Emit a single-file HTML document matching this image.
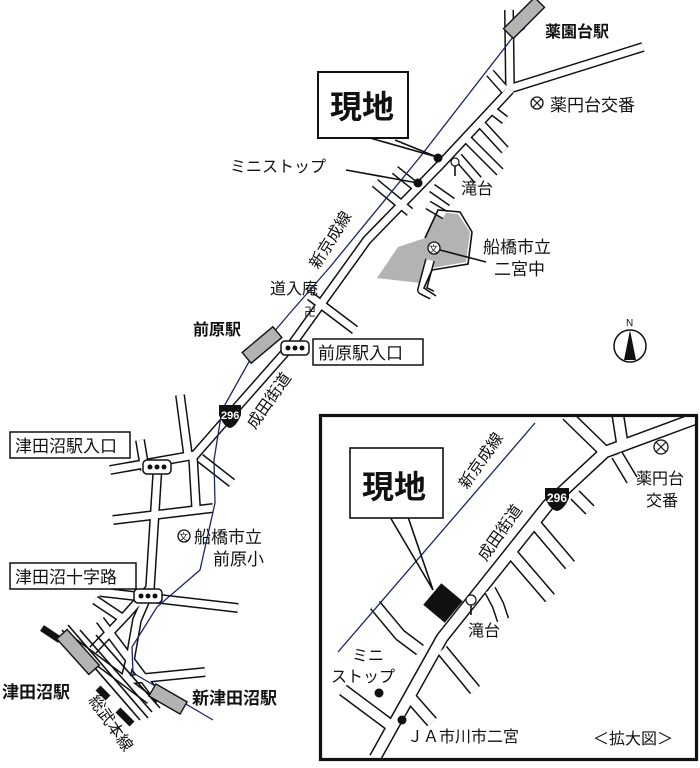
<!DOCTYPE html>
<html><head><meta charset="utf-8">
<style>
html,body{margin:0;padding:0;background:#fff;}
svg{display:block;}
text{font-family:"Liberation Sans","Noto Sans CJK JP",sans-serif;fill:#111;}
.b{font-weight:bold;}
.rd{fill:none;stroke:#111;stroke-width:10;stroke-linejoin:round;}
.rw{fill:none;stroke:#fff;stroke-width:7;stroke-linejoin:round;}
.rd2{fill:none;stroke:#111;stroke-width:13;stroke-linejoin:round;}
.rw2{fill:none;stroke:#fff;stroke-width:10;stroke-linejoin:round;}
.ln{fill:none;stroke:#111;stroke-width:1.6;}
.rail{fill:none;stroke:#1a2566;stroke-width:1.3;}
</style></head>
<body>
<svg width="700" height="768" viewBox="0 0 700 768" xmlns="http://www.w3.org/2000/svg">
<defs><clipPath id="ic"><rect x="321" y="416" width="375" height="343"/></clipPath></defs>
<polygon points="377,278 398,247 425,238 438,212 458,214 470,232 466,262 432,268 420,283" fill="#b3b3b3"/>
<g class="rd">
  <polyline points="509,10 510,88"/>
  <polyline points="512,88 643,47"/>
  <polyline points="510,90 440,165 367,240 290,347 230,415 195,455 110,470"/>
  <polyline points="158,462 150,588 128,613 93,650"/>
  <polyline points="193,457 196,508"/>
  <polyline points="113,520 213,508"/>
  <polyline points="100,592 238,608"/>
  <polyline points="150,590 137,620 130,660 125,680"/>
  <polyline points="125,680 205,672"/>
  <polyline points="200,458 232,483"/>
  <polyline points="180,395 188,455"/>
  <polyline points="140,440 145,470"/>
  <polyline points="430,260 422,290 432,295"/>
  <polyline points="375,183 410,212"/>
  <polyline points="395,170 420,190"/>
  <polyline points="458,157 478,180"/>
  <polyline points="468,140 500,172"/>
  <polyline points="482,125 505,150"/>
  <polyline points="492,110 505,120"/>
  <polyline points="490,73 505,90"/>
  <polyline points="432,188 452,202"/>
  <polyline points="428,205 445,215"/>
  <polyline points="310,296 355,330"/>
  <polyline points="70,640 150,700"/>
  <polyline points="100,620 160,700"/>
  <polyline points="95,600 125,620"/>
</g>
<g class="rw">
  <polyline points="509,10 510,88"/>
  <polyline points="512,88 643,47"/>
  <polyline points="510,90 440,165 367,240 290,347 230,415 195,455 110,470"/>
  <polyline points="158,462 150,588 128,613 93,650"/>
  <polyline points="193,457 196,508"/>
  <polyline points="113,520 213,508"/>
  <polyline points="100,592 238,608"/>
  <polyline points="150,590 137,620 130,660 125,680"/>
  <polyline points="125,680 205,672"/>
  <polyline points="200,458 232,483"/>
  <polyline points="180,395 188,455"/>
  <polyline points="140,440 145,470"/>
  <polyline points="430,260 422,290 432,295"/>
  <polyline points="375,183 410,212"/>
  <polyline points="395,170 420,190"/>
  <polyline points="458,157 478,180"/>
  <polyline points="468,140 500,172"/>
  <polyline points="482,125 505,150"/>
  <polyline points="492,110 505,120"/>
  <polyline points="490,73 505,90"/>
  <polyline points="432,188 452,202"/>
  <polyline points="428,205 445,215"/>
  <polyline points="310,296 355,330"/>
  <polyline points="70,640 150,700"/>
  <polyline points="100,620 160,700"/>
  <polyline points="95,600 125,620"/>
</g>
<polyline class="ln" points="425,238 438,210 460,212 472,232 468,264 432,270" />
<polyline class="ln" points="432,270 424,288 436,296"/>
<g stroke="#111" stroke-width="1.6">
  <line x1="62" y1="630" x2="140" y2="720"/>
  <line x1="68" y1="625" x2="148" y2="718"/>
  <line x1="80" y1="630" x2="152" y2="712"/>
  <line x1="96" y1="635" x2="160" y2="708"/>
</g>
<line x1="42" y1="628" x2="60" y2="640" stroke="#111" stroke-width="7"/>
<line x1="98" y1="688" x2="108" y2="698" stroke="#111" stroke-width="7"/>
<line x1="118" y1="710" x2="132" y2="724" stroke="#111" stroke-width="7"/>
<polyline class="rail" points="525,28 513,37 420,157 330,267 290,313 250,360 222,410 214,460 215,503 200,570 157,607 132,647 133,673 157,687 213,720"/>
<rect x="-22" y="-7" width="44" height="14" fill="#b3b3b3" stroke="#111" stroke-width="1.4" transform="translate(524,18) rotate(-45)"/>
<rect x="-20" y="-7" width="40" height="14" fill="#b3b3b3" stroke="#111" stroke-width="1.4" transform="translate(262,345) rotate(-40)"/>
<rect x="-24" y="-7" width="48" height="14" fill="#b3b3b3" stroke="#111" stroke-width="1.4" transform="translate(78,652) rotate(48)"/>
<rect x="-18" y="-7" width="36" height="14" fill="#b3b3b3" stroke="#111" stroke-width="1.4" transform="translate(168,699) rotate(30)"/>
<rect x="318" y="72" width="90" height="66" fill="#fff" stroke="#111" stroke-width="2"/>
<text x="330" y="118" font-size="32" class="b">現地</text>
<line class="ln" x1="370" y1="138" x2="437" y2="157"/>
<line class="ln" x1="395" y1="140" x2="437" y2="157"/>
<circle cx="438" cy="158" r="4.5" fill="#111"/>
<circle cx="418" cy="183" r="4.5" fill="#111"/>
<line class="ln" x1="346" y1="170" x2="418" y2="183"/>
<text x="230" y="172" font-size="16">ミニストップ</text>
<circle cx="455" cy="162" r="4" fill="#fff" stroke="#111" stroke-width="1.2"/>
<line class="ln" x1="455" y1="166" x2="455" y2="176"/>
<text x="461" y="194" font-size="16">滝台</text>
<circle cx="537" cy="103" r="6" fill="#fff" stroke="#111" stroke-width="1.3"/>
<path d="M533,99 L541,107 M541,99 L533,107" stroke="#111" stroke-width="1.2"/>
<text x="550" y="111" font-size="17">薬円台交番</text>
<text x="545" y="37" font-size="16" class="b">薬園台駅</text>
<circle cx="434" cy="248" r="6" fill="#fff" stroke="#111" stroke-width="1.3"/>
<text x="429" y="252" font-size="9">文</text>
<line class="ln" x1="440" y1="250" x2="486" y2="262"/>
<text x="483" y="253" font-size="17">船橋市立</text>
<text x="494" y="275" font-size="17">二宮中</text>
<text x="270" y="294" font-size="16">道入庵</text>
<text x="304" y="316" font-size="12">卍</text>
<text x="0" y="0" font-size="16" transform="translate(318,270) rotate(-58)">新京成線</text>
<text x="193" y="335" font-size="16" class="b">前原駅</text>
<rect x="281" y="341" width="28" height="14" rx="4" fill="#fff" stroke="#111" stroke-width="1.5"/>
<circle cx="288" cy="348" r="2.5" fill="#111"/><circle cx="295" cy="348" r="2.5" fill="#111"/><circle cx="302" cy="348" r="2.5" fill="#111"/>
<rect x="313" y="339" width="110" height="26" fill="#fff" stroke="#111" stroke-width="1.5"/>
<text x="318" y="359" font-size="17">前原駅入口</text>
<text x="0" y="0" font-size="16" transform="translate(255,430) rotate(-55)">成田街道</text>
<path d="M219,405 h22 v10 q-5,12 -11,13 q-6,-1 -11,-13z" fill="#111"/>
<text x="221" y="419" font-size="11" style="fill:#fff" class="b">296</text>
<rect x="10" y="432" width="120" height="26" fill="#fff" stroke="#111" stroke-width="1.5"/>
<text x="15" y="452" font-size="17">津田沼駅入口</text>
<rect x="143" y="460" width="28" height="14" rx="4" fill="#fff" stroke="#111" stroke-width="1.5"/>
<circle cx="150" cy="467" r="2.5" fill="#111"/><circle cx="157" cy="467" r="2.5" fill="#111"/><circle cx="164" cy="467" r="2.5" fill="#111"/>
<circle cx="184" cy="536" r="6" fill="#fff" stroke="#111" stroke-width="1.3"/>
<text x="179" y="540" font-size="9">文</text>
<text x="194" y="543" font-size="17">船橋市立</text>
<text x="213" y="565" font-size="17">前原小</text>
<rect x="10" y="563" width="126" height="26" fill="#fff" stroke="#111" stroke-width="1.5"/>
<text x="15" y="583" font-size="17">津田沼十字路</text>
<rect x="134" y="589" width="28" height="14" rx="4" fill="#fff" stroke="#111" stroke-width="1.5"/>
<circle cx="141" cy="596" r="2.5" fill="#111"/><circle cx="148" cy="596" r="2.5" fill="#111"/><circle cx="155" cy="596" r="2.5" fill="#111"/>
<text x="2" y="698" font-size="17" class="b">津田沼駅</text>
<text x="192" y="704" font-size="17" class="b">新津田沼駅</text>
<text x="0" y="0" font-size="16" transform="translate(88,700) rotate(55)">総武本線</text>
<text x="626" y="326" font-size="10">N</text>
<circle cx="630" cy="346" r="16" fill="#fff" stroke="#111" stroke-width="1.5"/>
<polygon points="630,330 624,360 636,360" fill="#111"/>

<rect x="320" y="415" width="377" height="345" fill="#fff" stroke="#111" stroke-width="2.2"/>
<g clip-path="url(#ic)">
<g class="rd2">
  <polyline points="375,758 442,638 548,505 605,452 697,418"/>
  <polyline points="618,416 623,448"/>
  <polyline points="567,415 605,452"/>
  <polyline points="617,455 632,480"/>
  <polyline points="575,495 590,510"/>
  <polyline points="536,525 570,565"/>
  <polyline points="513,555 550,598"/>
  <polyline points="490,590 498,605 503,620"/>
  <polyline points="442,650 475,690"/>
  <polyline points="375,605 400,635 420,650"/>
  <polyline points="343,690 390,725"/>
  <polyline points="410,697 432,722"/>
</g>
<g class="rw2">
  <polyline points="375,758 442,638 548,505 605,452 697,418"/>
  <polyline points="618,416 623,448"/>
  <polyline points="567,415 605,452"/>
  <polyline points="617,455 632,480"/>
  <polyline points="575,495 590,510"/>
  <polyline points="536,525 570,565"/>
  <polyline points="513,555 550,598"/>
  <polyline points="490,590 498,605 503,620"/>
  <polyline points="442,650 475,690"/>
  <polyline points="375,605 400,635 420,650"/>
  <polyline points="343,690 390,725"/>
  <polyline points="410,697 432,722"/>
</g>
</g>
<rect x="321" y="416" width="375" height="343" fill="none" stroke="#111" stroke-width="2.2"/>
<line class="rail" x1="338" y1="652" x2="535" y2="423"/>
<rect x="-14" y="-14" width="28" height="28" fill="#111" transform="translate(443,603) rotate(40)"/>
<line class="ln" x1="390" y1="517" x2="433" y2="590"/>
<line class="ln" x1="408" y1="517" x2="433" y2="590"/>
<rect x="350" y="448" width="93" height="70" fill="#fff" stroke="#111" stroke-width="1.6"/>
<text x="362" y="498" font-size="32" class="b">現地</text>
<text x="0" y="0" font-size="16" transform="translate(467,490) rotate(-55)">新京成線</text>
<text x="0" y="0" font-size="16" transform="translate(486,562) rotate(-55)">成田街道</text>
<path d="M545,488 h24 v10 q-5,12 -12,13 q-7,-1 -12,-13z" fill="#111"/>
<text x="547" y="502" font-size="12" style="fill:#fff" class="b">296</text>
<circle cx="661" cy="447" r="7" fill="#fff" stroke="#111" stroke-width="1.3"/>
<path d="M656,442 L666,452 M666,442 L656,452" stroke="#111" stroke-width="1.2"/>
<text x="636" y="484" font-size="16">薬円台</text>
<text x="646" y="506" font-size="16">交番</text>
<circle cx="471" cy="600" r="5" fill="#fff" stroke="#111" stroke-width="1.2"/>
<line class="ln" x1="471" y1="605" x2="471" y2="615"/>
<text x="468" y="636" font-size="16">滝台</text>
<text x="352" y="661" font-size="16">ミニ</text>
<text x="331" y="682" font-size="16">ストップ</text>
<circle cx="379" cy="693" r="4.5" fill="#111"/>
<circle cx="402" cy="720" r="4.5" fill="#111"/>
<text x="407" y="742" font-size="16">ＪＡ市川市二宮</text>
<text x="593" y="744" font-size="16">＜拡大図＞</text>
</svg>
</body></html>
